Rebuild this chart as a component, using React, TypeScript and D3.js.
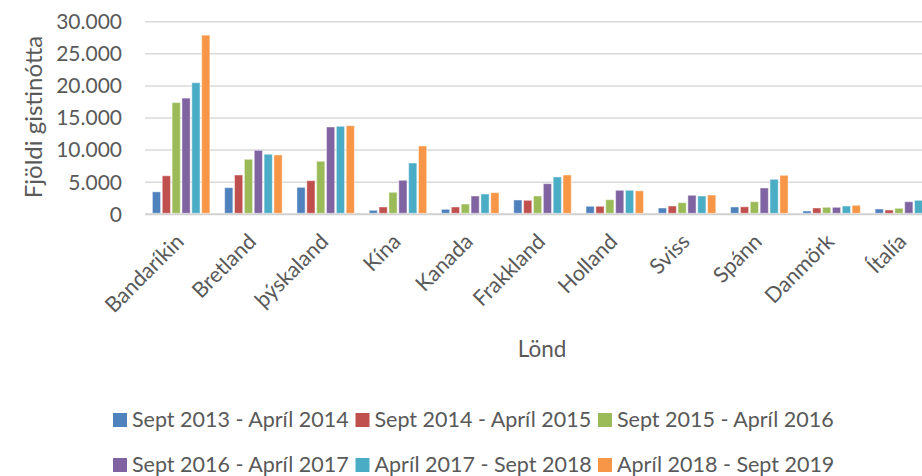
import React from "react";
import * as d3 from "d3";

// lönd á x-ás
const countries = [
  "Bandaríkin", "Bretland", "þýskaland", "Kína", "Kanada", "Frakkland",
  "Holland", "Sviss", "Spánn", "Danmörk", "Ítalía",
];

const periods = [
  "Sept 2013 - Apríl 2014",
  "Sept 2014 - Apríl 2015",
  "Sept 2015 - Apríl 2016",
  "Sept 2016 - Apríl 2017",
  "Apríl 2017 - Sept 2018",
  "Apríl 2018 - Sept 2019",
];

// one array per period, in country order
const s2013 = [3500, 4150, 4200, 620, 780, 2230, 1250, 980, 1140, 510, 830];
const s2014 = [6000, 6120, 5240, 1140, 1140, 2180, 1250, 1290, 1170, 980, 670];
const s2015 = [17400, 8570, 8260, 3430, 1600, 2850, 2280, 1810, 1960, 1090, 930];
const s2016 = [18100, 9970, 13600, 5300, 2850, 4770, 3740, 2960, 4100, 1090, 1960];
const s2017 = [20500, 9350, 13710, 7990, 3160, 5810, 3740, 2850, 5450, 1290, 2180];
const s2018 = [27900, 9240, 13800, 10640, 3370, 6120, 3650, 3000, 6070, 1400, 2300];

const yTicks = [0, 5000, 10000, 15000, 20000, 25000, 30000];

const colors = ["#4F81BD", "#C0504D", "#9BBB59", "#8064A2", "#4BACC6", "#F79646"];

const W = 922;
const H = 476;
const font = "Lato, 'Open Sans', sans-serif";
const txt = "#595959";

export default function App() {
  const series = [s2013, s2014, s2015, s2016, s2017, s2018];

  const x0 = d3.scaleBand().domain(countries).range([145, 940]);
  const bw = x0.bandwidth();
  const x1 = d3
    .scaleBand()
    .domain(periods)
    .range([7.4, bw - 7.4])
    .paddingInner(0.17);
  const y = d3.scaleLinear().domain([0, 30000]).range([214.3, 21.7]);

  const fmt = d3
    .formatLocale({ decimal: ",", thousands: ".", grouping: [3], currency: ["", " kr."] })
    .format(",");

  return (
    <div style={{ position: "absolute", left: 0, top: 0 }}>
      <svg width={W} height={H} style={{ display: "block", background: "#fff" }}>
        {/* gridlines */}
        {yTicks.map((t) => (
          <line
            key={t}
            x1={145}
            x2={W}
            y1={y(t)}
            y2={y(t)}
            stroke={t === 0 ? "#d0d0d0" : "#d9d9d9"}
            strokeWidth={t === 0 ? 2 : 1.5}
          />
        ))}
        {yTicks.map((t) => (
          <text
            key={"l" + t}
            x={122}
            y={y(t)}
            dy="0.35em"
            textAnchor="end"
            fontFamily={font}
            fontSize={21}
            fill={txt}
          >
            {fmt(t)}
          </text>
        ))}

        {/* bars */}
        {series.map((vals, si) =>
          vals.map((v, ci) => (
            <rect
              key={si + "-" + ci}
              x={x0(countries[ci])! + x1(periods[si])!}
              y={y(v)}
              width={x1.bandwidth()}
              height={y(0) - y(v) - 1}
              fill={colors[si]}
              stroke="#ffffff"
              strokeOpacity={0.45}
              strokeWidth={1}
            />
          ))
        )}

        {/* x labels */}
        {countries.map((c) => {
          const cx = x0(c)! + bw / 2 + 4;
          const cy = 243;
          return (
            <text
              key={c}
              transform={`translate(${cx},${cy}) rotate(-45)`}
              textAnchor="end"
              fontFamily={font}
              fontSize={21.5}
              fill={txt}
            >
              {c}
            </text>
          );
        })}

        {/* axis titles */}
        <text
          transform="translate(42,117) rotate(-90)"
          textAnchor="middle"
          fontFamily={font}
          fontSize={24}
          fill={txt}
        >
          Fjöldi gistinótta
        </text>
        <text x={542} y={357} textAnchor="middle" fontFamily={font} fontSize={22.5} fill={txt}>
          Lönd
        </text>

        {/* legend */}
        {periods.map((p, i) => {
          const col = i % 3;
          const row = Math.floor(i / 3);
          const lx = 113 + col * 242.5;
          const ly = 427 + row * 45;
          return (
            <g key={p}>
              <rect x={lx} y={ly - 14} width={14} height={14} fill={colors[i]} />
              <text x={lx + 19} y={ly} fontFamily={font} fontSize={21.5} fill={txt}>
                {p}
              </text>
            </g>
          );
        })}
      </svg>
    </div>
  );
}
